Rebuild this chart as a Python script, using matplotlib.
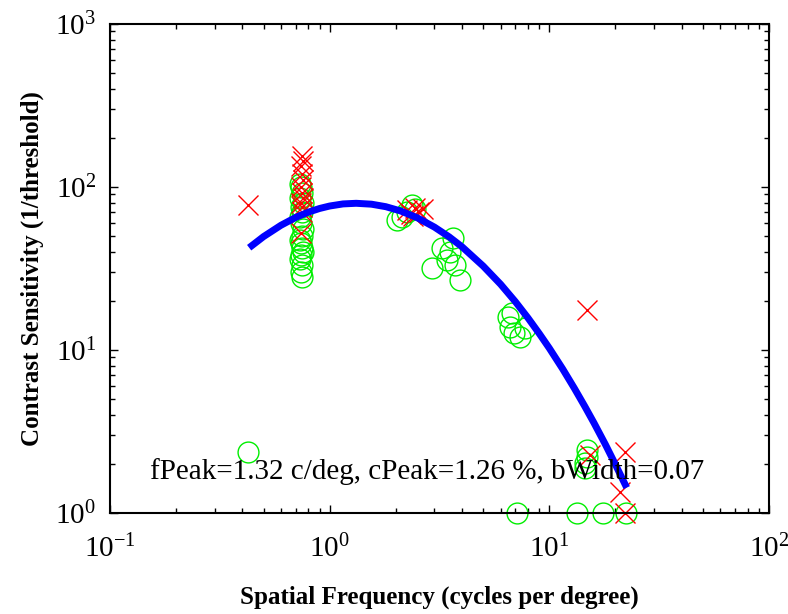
import matplotlib
matplotlib.use("Agg")
import matplotlib.pyplot as plt
from matplotlib.ticker import LogLocator, NullFormatter

plt.rcParams['font.family'] = ['Liberation Serif', 'DejaVu Serif']
plt.rcParams['mathtext.fontset'] = 'custom'
plt.rcParams['mathtext.rm'] = 'Liberation Serif'
plt.rcParams['mathtext.it'] = 'Liberation Serif:italic'
plt.rcParams['mathtext.bf'] = 'Liberation Serif:bold'

# green circles (measured thresholds)
green_x = [0.425,
           0.73, 0.74, 0.75, 0.73, 0.76, 0.74, 0.75, 0.73, 0.74, 0.76,
           0.75, 0.73, 0.74, 0.75, 0.76, 0.74, 0.73, 0.75, 0.74, 0.75,
           2.02, 2.14, 2.38, 2.25, 2.45,
           2.92, 3.24, 3.42, 3.53, 3.64, 3.72, 3.92,
           6.49, 6.76, 6.6, 7.35, 7.74, 6.9,
           14.8, 14.6, 14.9, 14.5,
           7.13, 13.4, 17.5, 22.3]
green_y = [2.37,
           105, 100, 92, 86, 80, 75, 70, 65, 60, 55,
           50, 47, 45, 42, 40, 38, 36, 33, 30, 28,
           63, 65.5, 77.5, 70, 73,
           31.8, 42.2, 35.7, 39.9, 48.7, 33.2, 26.9,
           15.9, 16.9, 13.8, 12.0, 13.6, 12.7,
           2.43, 2.03, 2.21, 1.89,
           1.0, 1.0, 1.0, 1.0]

# red crosses
red_x = [0.425,
         0.75, 0.76, 0.74, 0.75, 0.76, 0.74, 0.75, 0.76, 0.74, 0.75, 0.75, 0.74,
         2.24, 2.35, 2.45, 2.55, 2.66, 2.4,
         14.8, 15.3, 22.1, 21.0, 22.2]
red_y = [77,
         155, 145, 135, 120, 110, 100, 92, 85, 80, 75, 70, 52,
         72, 68, 74, 70, 73, 66,
         17.6, 2.27, 2.37, 1.35, 1.0]

# fitted curve
fit_x = [0.43, 0.5, 0.6, 0.7, 0.8, 0.9, 1.0, 1.15, 1.32, 1.55, 1.8, 2.1, 2.5,
         3.0, 3.5, 4.0, 5.0, 6.0, 7.0, 8.0, 9.0, 10, 11.5, 13, 14.5, 16, 18,
         20, 22.5]
fit_y = [42.4, 49.6, 58.2, 65.0, 70.1, 73.8, 76.4, 78.7, 79.4, 78.4, 75.7,
         71.3, 64.8, 56.7, 49.4, 43.0, 32.7, 25.3, 19.8, 15.7, 12.6, 10.25,
         7.65, 5.82, 4.51, 3.55, 2.63, 1.98, 1.43]

label = "fPeak=1.32 c/deg, cPeak=1.26 %, bWidth=0.07"

fig = plt.figure(figsize=(7.88, 6.14), dpi=100)
ax = fig.add_axes([0.1396, 0.1645, 0.8363, 0.7965])

ax.plot(green_x, green_y, 'o', mfc='none', mec='#00ee00', ms=15, mew=1.0, clip_on=False)
ax.plot(red_x, red_y, 'x', color='#ff0000', ms=14, mew=1.0, clip_on=False)
ax.plot(fit_x, fit_y, '-', color='#0000ff', lw=5, solid_capstyle='butt')

ax.set_xscale('log')
ax.set_yscale('log')
ax.set_xlim(0.1, 100)
ax.set_ylim(1, 1000)

ax.xaxis.set_major_locator(LogLocator(base=10, numticks=10))
ax.yaxis.set_major_locator(LogLocator(base=10, numticks=10))
ax.xaxis.set_minor_locator(LogLocator(base=10, subs=range(2, 10), numticks=20))
ax.yaxis.set_minor_locator(LogLocator(base=10, subs=range(2, 10), numticks=20))
ax.xaxis.set_minor_formatter(NullFormatter())
ax.yaxis.set_minor_formatter(NullFormatter())

ax.tick_params(which='both', direction='in', top=True, right=True, width=1.0)
ax.tick_params(which='major', length=6, labelsize=21)
ax.tick_params(axis='x', which='major', pad=16)
ax.tick_params(axis='y', which='major', pad=10)
ax.tick_params(which='minor', length=3.5)
for s in ax.spines.values():
    s.set_linewidth(1.5)

ax.set_xlabel("Spatial Frequency (cycles per degree)", fontsize=18, fontweight='bold', labelpad=16)
ax.set_ylabel("Contrast Sensitivity (1/threshold)", fontsize=18, fontweight='bold', labelpad=8)

ax.text(0.061, 0.085, label, transform=ax.transAxes, fontsize=21, va='center')

fig.savefig("out.png", dpi=100)
